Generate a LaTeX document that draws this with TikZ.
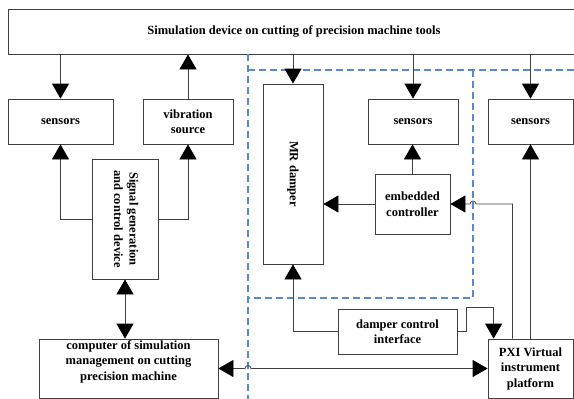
\documentclass[tikz,border=0pt]{standalone}
\usepackage{fontspec}
\usepackage{graphicx}
\setmainfont{Liberation Serif}
\usetikzlibrary{calc,arrows.meta}

\definecolor{zoneblue}{RGB}{91,136,205}

\begin{document}
\begin{tikzpicture}[x=1pt,y=-1pt,
  >={Triangle[width=17pt,length=15pt,color=black]},
  box/.style={draw=black!75,line width=0.8pt,align=center,inner sep=2pt,
    font=\fontsize{12.5}{15.5}\selectfont\bfseries},
  txt/.style={align=center,inner sep=0pt,font=\fontsize{12.5}{15.5}\selectfont\bfseries},
  conn/.style={draw=black!75,line width=0.8pt,->},
  zone/.style={draw=zoneblue,line width=1.2pt,dash pattern=on 7pt off 4pt}]
  \useasboundingbox (0,0) rectangle (574,399);

  % blocks
  \node[box,minimum width=572,minimum height=45] (sim) at (294,31.5) {Simulation device on cutting of precision machine tools};
  \node[box,minimum width=105,minimum height=45] (sens1) at (60.5,121.5) {sensors};
  \node[box,minimum width=90,minimum height=45] (vib) at (188,121.5) {vibration\\source};
  \node[box,minimum width=60,minimum height=180] (mr) at (293,174) {\rotatebox{-90}{MR damper}};
  \node[box,minimum width=90,minimum height=45] (sens2) at (413,121.5) {sensors};
  \node[box,minimum width=85,minimum height=45] (sens3) at (530.5,121.5) {sensors};
  \node[box,minimum width=66,minimum height=120] (sig) at (125,219)
    {\rotatebox{-90}{\begin{tabular}{@{}c@{}}Signal generation\\and control device\end{tabular}}};
  \node[box,minimum width=75,minimum height=60] (emb) at (412.5,204) {embedded\\controller};
  \node[box,minimum width=179,minimum height=59] (comp) at (128.5,368.5) {};
  \node[txt] (comptext) at ([yshift=7pt]comp.center) {computer of simulation\\management on cutting\\precision machine};
  \node[box,minimum width=119,minimum height=45] (dci) at (397.5,331.5) {damper control\\interface};
  \node[box,minimum width=85,minimum height=59] (pxi) at (530.5,368.5) {PXI Virtual\\instrument\\platform};

  % dashed zones
  \coordinate (zl) at (248,70);
  \coordinate (zr) at (473,70);
  \draw[zone] (sim.south -| zl) -- (zl |- 0,399);
  \draw[zone] (zl) -- (574,70);
  \draw[zone] (zr) -- (zr |- 0,298) -- (zl |- 0,298);

  % connectors
  \coordinate (pxiA) at ($(pxi.north west)!0.29!(pxi.north east)$);
  \coordinate (pxiB) at ([xshift=6pt]pxi.north west);
  \coordinate (hopA) at (comp.east -| zl);
  \coordinate (hopB) at (emb.east -| zr);

  \draw[conn] (sim.south -| sens1) -- (sens1);
  \draw[conn] (vib) -- (vib |- sim.south);
  \draw[conn] (sim.south -| mr) -- (mr);
  \draw[conn] (sim.south -| sens2) -- (sens2);
  \draw[conn] (sim.south -| sens3) -- (sens3);
  \draw[conn] (sig.west) -| (sens1);
  \draw[conn] (sig.east) -| (vib);
  \draw[conn,<->] (sig) -- (sig |- comp.north);
  \draw[conn] (emb) -- (emb |- sens2.south);
  \draw[conn] (emb) -- (emb -| mr.east);
  \draw[conn] (pxiA) |- ([xshift=3pt]hopB) arc[start angle=0,end angle=-180,radius=3] -- (emb.east);
  \draw[conn] (pxi.north -| sens3) -- (sens3);
  \draw[conn] (dci.west) -| (mr);
  \draw[conn] (dci.east) -- ++(9,0) |- ($(pxiB)+(0,-31)$) -- (pxiB);
  \draw[conn,<->] (comp.east) -- ([xshift=-3pt]hopA) arc[start angle=180,end angle=360,radius=3] -- (pxi.west);
\end{tikzpicture}
\end{document}
